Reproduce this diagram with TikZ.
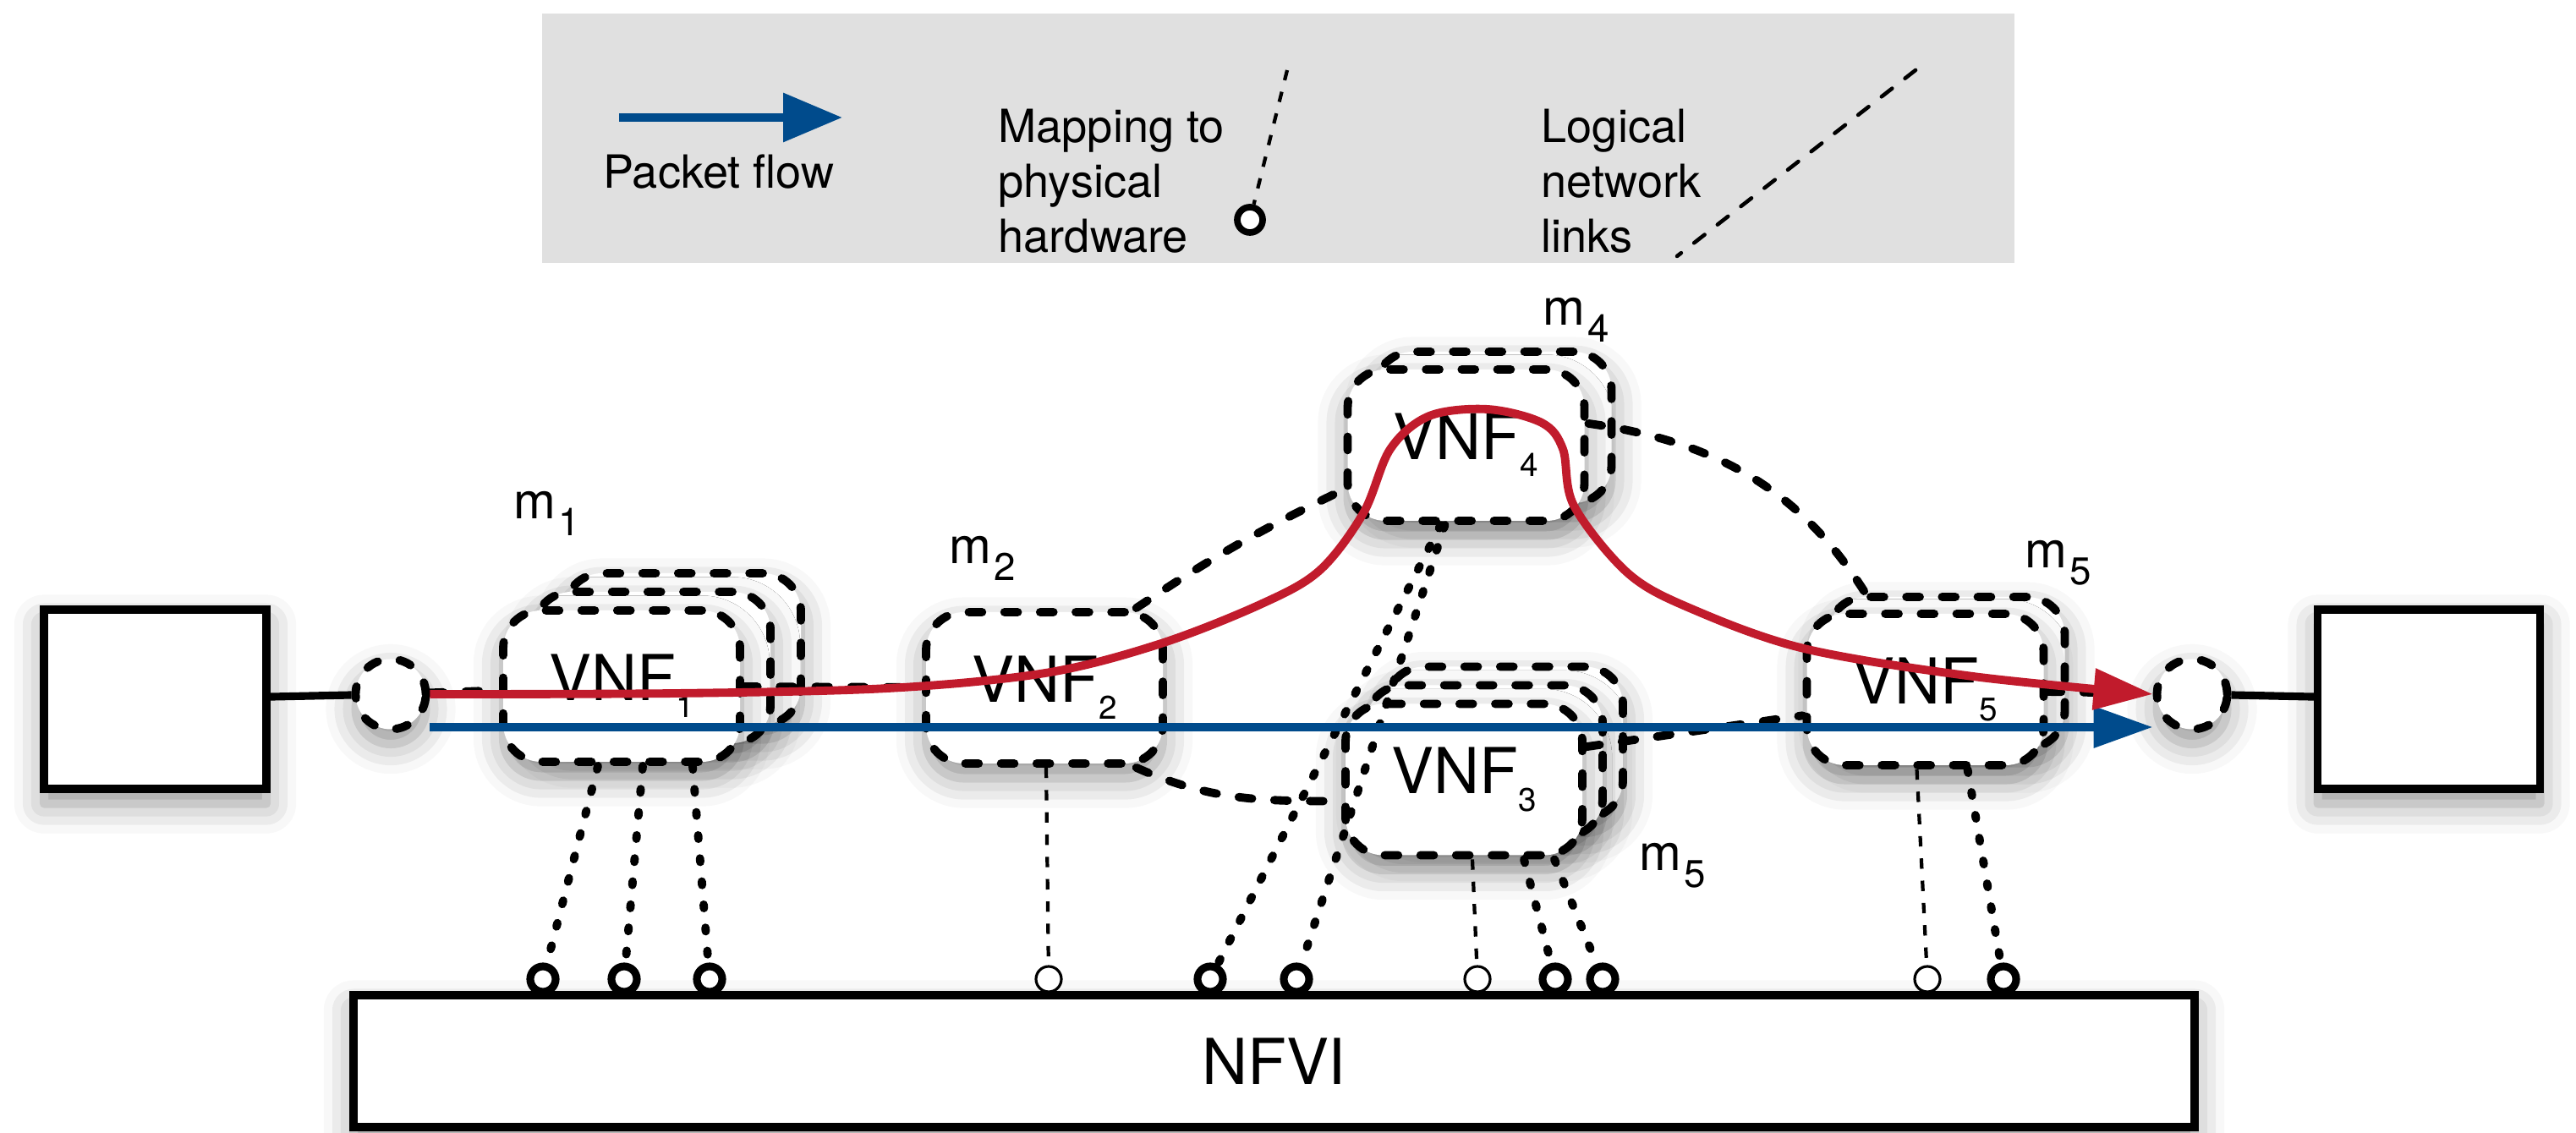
\documentclass[tikz,border=0pt]{standalone}
\usepackage{fontspec}
\setmainfont{TeX Gyre Heros}
\usetikzlibrary{arrows.meta, positioning, calc, shadows.blur}
\definecolor{flowBlue}{HTML}{004B8C}
\definecolor{flowRed}{HTML}{C11B2C}
\definecolor{legendGray}{HTML}{E0E0E0}

% VNF name and machine name with the lowered index
\newcommand{\vnf}[1]{VNF\raisebox{-5.7pt}{\fontsize{11}{12}\selectfont #1}}
\newcommand{\mach}[1]{m\kern1pt\raisebox{-5.7pt}{\fontsize{13}{15}\selectfont #1}}

\tikzset{
  softshadow/.style={blur shadow={shadow xshift=0pt, shadow yshift=-5pt, shadow blur radius=10pt, shadow opacity=42}},
  hostbox/.style={draw, line width=2.6pt, fill=white, minimum width=2.63cm, minimum height=2.12cm, softshadow},
  vnfbox/.style={draw, fill=white, line width=2.8pt, dash pattern=on 4.5pt off 7.5pt, line cap=round, rounded corners=4.5mm, minimum width=2.80cm, minimum height=1.79cm, inner sep=0pt, font=\fontsize{21.3}{24}\selectfont, softshadow},
  portcirc/.style={circle, draw, fill=white, line width=2.8pt, dash pattern=on 4pt off 7.5pt, line cap=round, minimum size=0.83cm, inner sep=0pt, softshadow},
  mlabel/.style={font=\fontsize{17}{20}\selectfont, inner sep=0pt},
  legendtext/.style={font=\fontsize{15.4}{18.5}\selectfont, align=left, inner sep=0pt},
  lnk/.style={line width=2.8pt, dash pattern=on 4.5pt off 7.5pt, line cap=round},
  hwmap/.style={line width=2.8pt, dash pattern=on 1.2pt off 6.6pt, line cap=round},
  hwmapthin/.style={line width=1.2pt, dash pattern=on 3.5pt off 4pt},
  hwpin/.style={circle, draw, fill=white, line width=2.6pt, minimum size=3mm, inner sep=0pt},
  hwpinthin/.style={hwpin, line width=0.9pt},
  flow/.style={line width=2.8pt, -{Triangle[length=7mm, width=4.7mm]}},
}

\begin{document}
\begin{tikzpicture}
\useasboundingbox (0,0) rectangle (30.46,13.40);

% legend
\fill[legendGray] (6.41,10.29) rectangle (23.82,13.24);
\coordinate (lgflowA) at (7.32,12.01);
\coordinate (lgflowB) at (9.96,12.01);
\draw[flow, flowBlue, -{Triangle[length=7mm, width=5.6mm]}] (lgflowA) -- (lgflowB);
\node[legendtext, anchor=base] (lgflowtxt) at (8.50,11.17) {Packet flow};
\node[legendtext, anchor=north west] (lgmaptxt) at (11.80,12.12) {Mapping to\\physical\\hardware};
\coordinate (lgmaptop) at (15.22,12.57);
\node[hwpin, line width=2.2pt] (lgpin) at (14.78,10.80) {};
\draw[hwmapthin] (lgmaptop) -- (lgpin);
\node[legendtext, anchor=north west] (lglnktxt) at (18.22,12.12) {Logical\\network\\links};
\coordinate (lglnkA) at (22.65,12.57);
\coordinate (lglnkB) at (19.83,10.37);
\draw[lnk, line width=1.3pt, dash pattern=on 4.5pt off 5.5pt] (lglnkA) -- (lglnkB);

% end hosts and their ports
\node[hostbox] (srcbox) at (1.835,5.13) {};
\node[hostbox] (dstbox) at (28.72,5.13) {};
\node[portcirc] (inport) at (4.62,5.19) {};
\node[portcirc] (outport) at (25.92,5.19) {};
\draw[line width=2.6pt] (srcbox) -- (inport);
\draw[line width=2.6pt] (outport) -- (dstbox);

% infrastructure
\node[draw, line width=2.6pt, fill=white, minimum width=21.77cm, minimum height=1.56cm,
  font=\fontsize{21.3}{24}\selectfont, softshadow] (nfvi) at (15.065,0.85) {NFVI};

% VNF instances, copies stacked behind
\foreach \k in {2,1}
  \node[vnfbox, xshift=\k*3.6mm, yshift=\k*2.2mm] at (7.35,5.285) {};
\node[vnfbox] (vnf1) at (7.35,5.285) {\vnf{1}};
\node[vnfbox] (vnf2) at (12.35,5.265) {\vnf{2}};
\node[vnfbox, xshift=3.2mm, yshift=2.1mm] at (17.335,8.135) {};
\node[vnfbox] (vnf4) at (17.335,8.135) {\vnf{4}};
\foreach \k in {2,1}
  \node[vnfbox, xshift=\k*2.4mm, yshift=\k*2.2mm] at (17.31,4.18) {};
\node[vnfbox] (vnf3) at (17.31,4.18) {\vnf{3}};
\node[vnfbox, xshift=2.5mm, yshift=2.0mm] at (22.765,5.245) {};
\node[vnfbox] (vnf5) at (22.765,5.245) {\vnf{5}};

% machine labels
\node[mlabel] (m1) at (6.47,7.33) {\mach{1}};
\node[mlabel] (m2) at (11.62,6.80) {\mach{2}};
\node[mlabel] (m4) at (18.64,9.62) {\mach{4}};
\node[mlabel] (m5a) at (24.34,6.74) {\mach{5}};
\node[mlabel] (m5b) at (19.78,3.16) {\mach{5}};

% hardware pins
\foreach \x/\n in {6.42/p1a, 7.38/p1b, 8.39/p1c, 14.31/p4a, 15.33/p4b, 18.39/p3b, 18.95/p3c, 23.69/p5b}
  \node[hwpin] (\n) at (\x,1.82) {};
\foreach \x/\n in {12.40/p2a, 17.47/p3a, 22.79/p5a}
  \node[hwpinthin] (\n) at (\x,1.82) {};

% mapping to hardware
\draw[hwmap] ([xshift=-2.8mm]vnf1.south) -- (p1a);
\draw[hwmap] ([xshift=2.5mm]vnf1.south) -- (p1b);
\draw[hwmap] ([xshift=8.4mm]vnf1.south) -- (p1c);
\draw[hwmapthin] ([xshift=0.2mm]vnf2.south) -- (p2a);
\draw[hwmap] ([xshift=-3.0mm]vnf4.south) -- (p4a);
\draw[hwmap] ([xshift=-2.5mm]vnf4.south) -- (p4b);
\draw[hwmapthin] ([xshift=1.0mm]vnf3.south) -- (p3a);
\draw[hwmap] ([xshift=7.1mm]vnf3.south) -- (p3b);
\draw[hwmap] ([xshift=10.7mm]vnf3.south) -- (p3c);
\draw[hwmapthin] ([xshift=-1.0mm]vnf5.south) -- (p5a);
\draw[hwmap] ([xshift=5.0mm]vnf5.south) -- (p5b);

% logical links
\draw[lnk] (inport) -- (vnf1);
\draw[lnk] (vnf1) -- (vnf2);
\draw[lnk] (vnf2.41) to[bend left=4] (vnf4.200);
\draw[lnk] (vnf2.-41) to[out=-24, in=180] (vnf3.190);
\draw[lnk] (vnf4.10) to[out=-8, in=120] (vnf5.122);
\draw[lnk] (vnf3.15) -- (vnf5.192);
\draw[lnk] (vnf5) -- (outport);

% packet flows
\draw[flow, flowBlue] ([yshift=-3.9mm]inport.east) -- ([yshift=-3.9mm]outport.west);
\draw[flow, flowRed] plot[smooth, tension=0.55] coordinates {(inport.east) (8.0,5.20) (10.5,5.26)
  (12.36,5.44) (13.70,5.78) (14.90,6.25) (15.60,6.65) (16.12,7.33) (16.44,8.09) (16.90,8.48)
  (17.59,8.56) (18.23,8.40) (18.48,8.09) (18.61,7.42) (19.25,6.62) (20.00,6.20) (21.33,5.73)
  (23.33,5.40) (outport.west)};
\end{tikzpicture}
\end{document}
